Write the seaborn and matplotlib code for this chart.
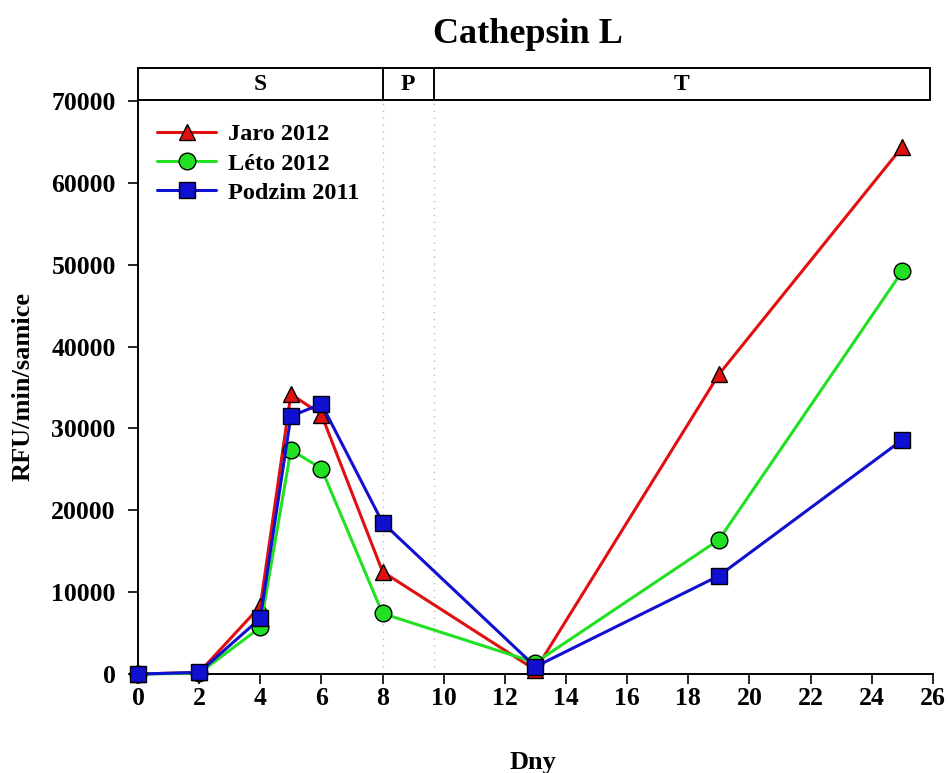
import matplotlib
matplotlib.use("Agg")
import matplotlib.pyplot as plt
import seaborn as sns
import pandas as pd

# Sampling days and enzyme activity per season
days = [0, 2, 4, 5, 6, 8, 13, 19, 25]
jaro_2012 = [0, 200, 8300, 34200, 31700, 12500, 500, 36600, 64400]
leto_2012 = [0, 100, 5700, 27400, 25100, 7400, 1400, 16400, 49200]
podzim_2011 = [0, 200, 6800, 31500, 33000, 18500, 900, 12000, 28600]

series_names = ["Jaro 2012", "Léto 2012", "Podzim 2011"]
series_colors = ["#e01010", "#22e022", "#1010d0"]
series_markers = ["^", "o", "s"]

# Phase bands along the day axis
phase_labels = ["S", "P", "T"]
phase_edges = [0, 8, 9.67, 26]

x_ticks = list(range(0, 27, 2))
y_ticks = list(range(0, 70001, 10000))

sns.set_style("ticks")
plt.rcParams["font.family"] = ["Liberation Serif", "DejaVu Serif"]
plt.rcParams["font.weight"] = "bold"
plt.rcParams["text.color"] = "black"
plt.rcParams["xtick.color"] = "black"
plt.rcParams["ytick.color"] = "black"
plt.rcParams["axes.edgecolor"] = "black"
plt.rcParams["axes.labelcolor"] = "black"

df = pd.DataFrame({
    "Dny": days * 3,
    "value": jaro_2012 + leto_2012 + podzim_2011,
    "series": sum([[n] * len(days) for n in series_names], []),
})

fig = plt.figure(figsize=(9.48, 7.73), dpi=100)
ax = fig.add_axes([0.1456, 0.128, 0.8384, 0.7413])

sizes = {"^": 12, "o": 12, "s": 11}
for name, color, marker in zip(series_names, series_colors, series_markers):
    sub = df[df["series"] == name]
    sns.lineplot(data=sub, x="Dny", y="value", ax=ax, color=color, lw=2.2,
                 marker=marker, markersize=sizes[marker],
                 markeredgecolor="black", markeredgewidth=1,
                 label=name, clip_on=False, zorder=3)

# Dotted phase boundaries
for xb in phase_edges[1:-1]:
    ax.axvline(xb, color="#bbbbbb", ls=(0, (1, 4)), lw=1, zorder=1)

ax.set_xlim(0, 26)
ax.set_ylim(0, 70000)
ax.set_xticks(x_ticks)
ax.set_yticks(y_ticks)
ax.tick_params(direction="out", length=7, width=1.2, labelsize=18.5)
ax.tick_params(axis="x", pad=2)
ax.tick_params(axis="y", pad=9)
for lab in ax.get_xticklabels() + ax.get_yticklabels():
    lab.set_fontweight("bold")
ax.spines["top"].set_visible(False)
ax.spines["right"].set_visible(False)
ax.spines["left"].set_linewidth(1.4)
ax.spines["bottom"].set_linewidth(1.4)

ax.set_xlabel("")
ax.set_ylabel("")
fig.text(0.5625, 0.013, "Dny", ha="center", va="center",
         fontsize=19, fontweight="bold")
fig.text(0.024, 0.5, "RFU/min/samice", ha="center", va="center",
         rotation=90, fontsize=19, fontweight="bold")

leg = ax.legend(loc="upper left", bbox_to_anchor=(0.0, 0.995), frameon=False,
                prop={"size": 17.5, "weight": "bold"}, handlelength=2.4,
                labelspacing=0.3, borderaxespad=0.4, handletextpad=0.5)

# Phase header strip
hax = fig.add_axes([0.1456, 0.8706, 0.8350, 0.041])
hax.set_xlim(0, 25.9)
hax.set_ylim(0, 1)
hax.set_xticks([])
hax.set_yticks([])
for s in hax.spines.values():
    s.set_linewidth(1.4)
for xb in phase_edges[1:-1]:
    hax.axvline(xb, color="black", lw=1.4)
for lab, a, b in zip(phase_labels, phase_edges[:-1], phase_edges[1:]):
    hax.text((a + min(b, 25.9)) / 2, 0.5, lab, ha="center", va="center",
             fontsize=17, fontweight="bold")

fig.text(0.557, 0.955, "Cathepsin L", ha="center", va="center",
         fontsize=26, fontweight="bold")

fig.savefig("out.png", dpi=100)
